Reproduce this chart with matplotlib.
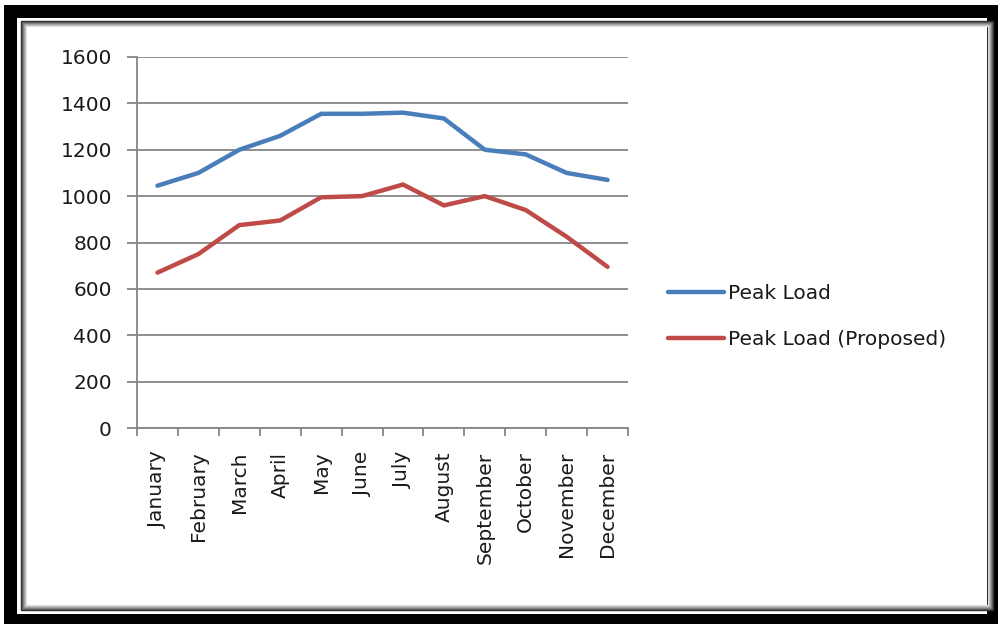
import matplotlib
matplotlib.use("Agg")
import matplotlib.pyplot as plt
from matplotlib.patches import Rectangle
from matplotlib.lines import Line2D

months = ["January", "February", "March", "April", "May", "June",
          "July", "August", "September", "October", "November", "December"]
peak_load = [1045, 1100, 1200, 1260, 1355, 1355, 1360, 1335, 1200, 1180, 1100, 1070]
peak_load_proposed = [670, 750, 875, 895, 995, 1000, 1050, 960, 1000, 940, 825, 695]
y_ticks = [0, 200, 400, 600, 800, 1000, 1200, 1400, 1600]

BLUE = "#4a7ebb"
RED = "#be4b48"
GRID = "#868686"
TEXT = "#1a1a1a"
FS = 14.5
LW = 3.2

plt.rcParams["font.family"] = ["DejaVu Sans"]

W, H = 1000, 626
fig = plt.figure(figsize=(W / 100, H / 100), dpi=100)
fig.patch.set_facecolor("white")


def px_rect(x0, y0, x1, y1, **kw):
    """Rectangle given in pixel coordinates measured from the top-left."""
    r = Rectangle((x0 / W, 1 - y1 / H), (x1 - x0) / W, (y1 - y0) / H,
                  transform=fig.transFigure, **kw)
    fig.patches.append(r)
    return r


# outer black frame
px_rect(4, 5, 998, 624, facecolor="black", edgecolor="none", zorder=0)
px_rect(17, 18, 987, 614, facecolor="white", edgecolor="none", zorder=0)
# bevelled inner panel with soft shadow
for i, c in enumerate(["#2a2a2a", "#555555", "#7a7a7a", "#9a9a9a", "#bdbdbd", "#dedede"]):
    px_rect(21 + i, 21 + i, 993 - i, 610 - i, facecolor="none", edgecolor=c,
            linewidth=1.0, zorder=0.5)
px_rect(27, 27, 987, 604, facecolor="white", edgecolor="none", zorder=0.6)

ax = fig.add_axes([137 / W, 1 - 428 / H, (628 - 137) / W, (428 - 57) / H])
ax.set_facecolor("none")
ax.set_zorder(2)

x = [i + 0.5 for i in range(len(months))]
ax.plot(x, peak_load, color=BLUE, linewidth=LW, solid_capstyle="round",
        solid_joinstyle="round", label="Peak Load", zorder=3)
ax.plot(x, peak_load_proposed, color=RED, linewidth=LW, solid_capstyle="round",
        solid_joinstyle="round", label="Peak Load (Proposed)", zorder=3)

ax.set_xlim(0, 12)
ax.set_ylim(0, 1600)
ax.set_yticks(y_ticks)
ax.set_yticklabels([str(v) for v in y_ticks], fontsize=FS, color=TEXT)
ax.yaxis.grid(True, color=GRID, linewidth=1.3)
ax.set_axisbelow(True)

ax.set_xticks(range(13))
ax.set_xticklabels([])
ax.set_xticks(x, minor=True)
ax.set_xticklabels(months, minor=True, rotation=90, fontsize=FS,
                   color=TEXT, va="top", ha="center")
ax.tick_params(axis="x", which="minor", length=0, pad=17)
ax.tick_params(axis="x", which="major", length=6, width=1.3, color=GRID)
ax.tick_params(axis="y", length=7, width=1.3, color=GRID, pad=11)

for side in ["top", "right"]:
    ax.spines[side].set_visible(False)
for side in ["left", "bottom"]:
    ax.spines[side].set_color(GRID)
    ax.spines[side].set_linewidth(1.3)

handles = [Line2D([0], [0], color=BLUE, linewidth=LW, solid_capstyle="round"),
           Line2D([0], [0], color=RED, linewidth=LW, solid_capstyle="round")]
fig.legend(handles, ["Peak Load", "Peak Load (Proposed)"],
           loc="upper left", bbox_to_anchor=(650 / W, 1 - 266 / H),
           frameon=False, fontsize=FS, handlelength=2.75, handletextpad=0.2,
           labelspacing=1.35, labelcolor=TEXT)

fig.savefig("out.png", dpi=100, facecolor=fig.get_facecolor())
